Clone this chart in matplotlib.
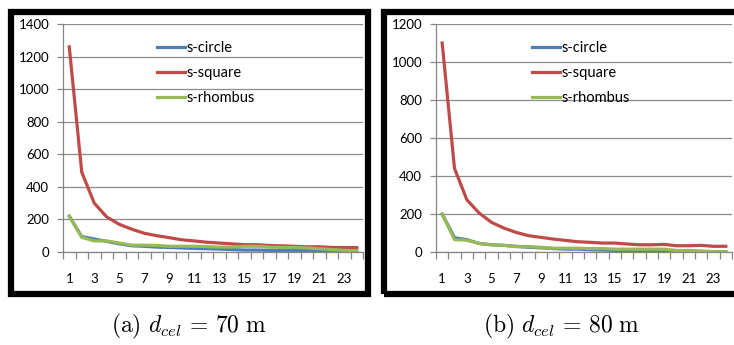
import numpy as np
import matplotlib
matplotlib.use("Agg")
import matplotlib.pyplot as plt
from matplotlib.patches import Rectangle

# data
x = np.arange(1, 25)
xlabels = [str(i) for i in range(1, 24, 2)]

a_circle = [220, 95, 80, 65, 50, 38, 35, 30, 28, 25, 22, 20, 18, 15, 12, 12, 10, 10, 10, 10, 8, 8, 5, 5]
a_square = [1260, 490, 300, 215, 170, 140, 115, 100, 88, 75, 68, 60, 55, 50, 45, 45, 40, 38, 35, 32, 32, 28, 27, 27]
a_rhombus = [220, 90, 68, 68, 55, 42, 42, 40, 35, 35, 35, 33, 30, 30, 35, 35, 30, 28, 28, 25, 20, 15, 10, 8]

b_circle = [200, 75, 65, 45, 38, 35, 30, 25, 22, 18, 15, 15, 12, 10, 8, 8, 8, 5, 5, 5, 5, 3, 2, 2]
b_square = [1100, 440, 275, 205, 156, 126, 103, 86, 77, 68, 61, 54, 51, 47, 47, 42, 38, 38, 40, 33, 33, 35, 30, 30]
b_rhombus = [200, 65, 62, 45, 38, 35, 28, 28, 25, 20, 20, 20, 18, 18, 15, 15, 15, 15, 15, 8, 8, 5, 2, 2]

ymax = [1400, 1200]
captions = [r'$\mathrm{(a)}\ d_{cel}\,=\,70\ \mathrm{m}$', r'$\mathrm{(b)}\ d_{cel}\,=\,80\ \mathrm{m}$']

plt.rcParams['font.family'] = ['Lato', 'DejaVu Sans']
plt.rcParams['mathtext.fontset'] = 'cm'

W, H = 734, 345
fig = plt.figure(figsize=(W / 100, H / 100), dpi=100)

def fx(px):
    return px / W

def fy(py):
    return 1 - py / H

# plot area x-range, frame x-range, caption centre, legend x (axes fraction)
panels = [
    (a_circle, a_square, a_rhombus, (63, 363), (8, 371), 189, 0.313),
    (b_circle, b_square, b_rhombus, (436, 732), (381, 740), 562, 0.324),
]

blue = '#4A7EBB'
red = '#BE4B48'
green = '#98B954'

for i, (c, s, r, (x0, x1), (b0, b1), capx, legx) in enumerate(panels):
    ax = fig.add_axes([fx(x0), fy(252), fx(x1 - x0), (252 - 24) / H])
    ax.plot(x, c, color=blue, lw=2.3, label='s-circle')
    ax.plot(x, s, color=red, lw=2.3, label='s-square')
    ax.plot(x, r, color=green, lw=2.3, label='s-rhombus')
    ax.set_xlim(0.5, 24.5)
    ax.set_ylim(0, ymax[i])
    ax.set_yticks(np.arange(0, ymax[i] + 1, 200))
    ax.grid(axis='y', color='#8c8c8c', lw=0.9)
    ax.set_axisbelow(True)
    for sp in ['top', 'right']:
        ax.spines[sp].set_visible(False)
    for sp in ['left', 'bottom']:
        ax.spines[sp].set_color('#868686')
        ax.spines[sp].set_linewidth(0.9)
    # ticks between categories, labels on odd categories
    ax.set_xticks(np.arange(0.5, 25, 1))
    ax.set_xticklabels([])
    ax.set_xticks(np.arange(1, 24, 2), minor=True)
    ax.set_xticklabels(xlabels, minor=True)
    ax.tick_params(axis='x', which='major', length=5, color='#868686', width=0.9)
    ax.tick_params(axis='x', which='minor', length=0, pad=15, labelsize=9.5)
    ax.tick_params(axis='y', length=4, color='#868686', width=0.9, pad=6, labelsize=9.5)
    ax.legend(loc='upper left', bbox_to_anchor=(legx, 0.925),
              frameon=False, fontsize=10.5, handlelength=1.95, handletextpad=0.1,
              labelspacing=0.75, borderaxespad=0, borderpad=0)
    # black frame
    fig.patches.append(Rectangle((fx(b0 + 3), fy(294)), fx(b1 - b0 - 6), (294 - 12) / H,
                                 transform=fig.transFigure, fill=False,
                                 edgecolor='black', lw=4.5))
    fig.text(fx(capx), fy(326), captions[i], ha='center', va='center', fontsize=17)

fig.savefig('out.png', dpi=100)
